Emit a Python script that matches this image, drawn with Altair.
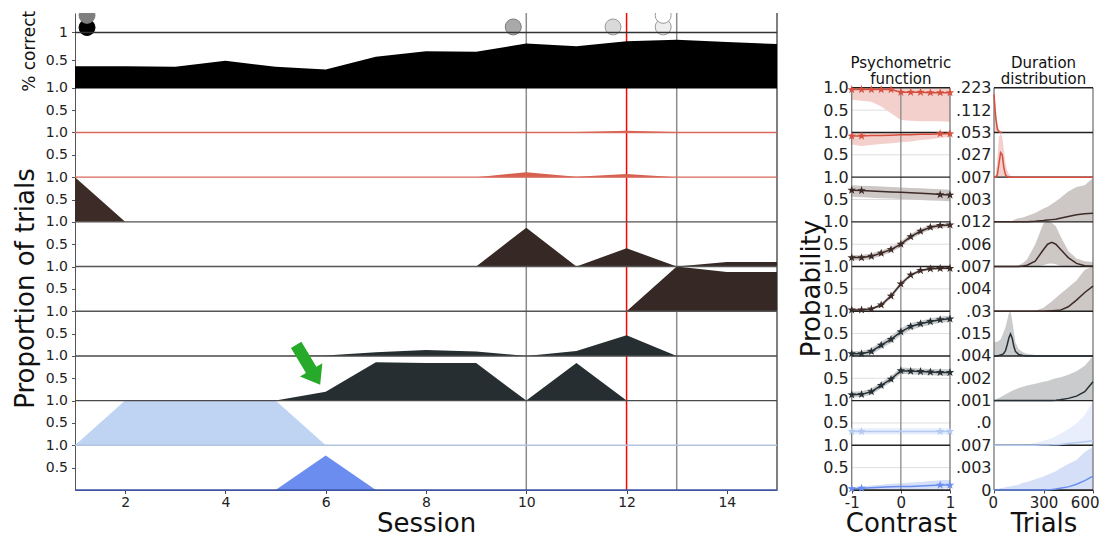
import altair as alt
import pandas as pd

# ---------------- data: session panel ----------------
SESSIONS = [1, 2, 3, 4, 5, 6, 7, 8, 9, 10, 11, 12, 13, 14, 15]
PCT_CORRECT = [0.39, 0.39, 0.38, 0.49, 0.38, 0.33, 0.56, 0.66, 0.65, 0.80, 0.75, 0.84, 0.87, 0.83, 0.79]

PROP_STATE_1 = [0, 0, 0, 0, 0, 0, 0, 0, 0, 0, 0.01, 0.04, 0.01, 0, 0]
PROP_STATE_2 = [0, 0, 0, 0, 0, 0, 0, 0, 0, 0.11, 0.01, 0.07, 0, 0, 0]
PROP_STATE_3 = [1.0, 0, 0, 0, 0, 0, 0, 0, 0, 0, 0, 0, 0, 0, 0]
PROP_STATE_4 = [0, 0, 0, 0, 0, 0, 0, 0, 0, 0.87, 0, 0.41, 0, 0.10, 0.10]
PROP_STATE_5 = [0, 0, 0, 0, 0, 0, 0, 0, 0, 0, 0, 0, 1.0, 0.88, 0.88]
PROP_STATE_6 = [0, 0, 0, 0, 0, 0.01, 0.08, 0.13, 0.10, 0, 0.11, 0.46, 0, 0, 0]
PROP_STATE_7 = [0, 0, 0, 0, 0, 0.20, 0.86, 0.84, 0.84, 0, 0.84, 0, 0, 0, 0]
PROP_STATE_8 = [0, 1.0, 1.0, 1.0, 1.0, 0, 0, 0, 0, 0, 0, 0, 0, 0, 0]
PROP_STATE_9 = [0, 0, 0, 0, 0, 0.77, 0, 0, 0, 0, 0, 0, 0, 0, 0]

MARK_SESSIONS = [10, 13, 12]

CIRCLE_SESSION = [1.24, 1.24, 9.74, 11.73, 12.73, 12.73]
CIRCLE_VALUE = [1.09, 1.31, 1.10, 1.10, 1.10, 1.31]

ARROW_SESSION = 5.65
ARROW_Y = 2.80

# ---------------- data: psychometric functions ----------------
CONTRASTS = [-1, -0.8, -0.6, -0.4, -0.2, 0, 0.2, 0.4, 0.6, 0.8, 1]
PSY_MEAN = [
    [0.96, 0.96, 0.96, 0.96, 0.96, 0.90, 0.90, 0.90, 0.89, 0.89, 0.89],
    [0.92, 0.92, 0.93, 0.93, 0.94, 0.95, 0.95, 0.96, 0.96, 0.97, 0.97],
    [0.71, 0.70, 0.69, 0.68, 0.67, 0.66, 0.65, 0.64, 0.63, 0.61, 0.60],
    [0.20, 0.20, 0.23, 0.30, 0.38, 0.50, 0.67, 0.79, 0.88, 0.92, 0.93],
    [0.03, 0.03, 0.05, 0.14, 0.34, 0.61, 0.81, 0.91, 0.95, 0.96, 0.96],
    [0.05, 0.05, 0.10, 0.24, 0.37, 0.54, 0.66, 0.72, 0.77, 0.81, 0.83],
    [0.13, 0.14, 0.20, 0.34, 0.48, 0.67, 0.66, 0.65, 0.64, 0.63, 0.63],
    [0.31, 0.31, 0.31, 0.31, 0.31, 0.31, 0.31, 0.31, 0.31, 0.31, 0.31],
    [0.03, 0.04, 0.05, 0.06, 0.07, 0.08, 0.08, 0.09, 0.10, 0.11, 0.11],
]
PSY_LO = [
    [0.73, 0.71, 0.69, 0.58, 0.43, 0.28, 0.26, 0.25, 0.25, 0.25, 0.24],
    [0.73, 0.70, 0.72, 0.74, 0.76, 0.78, 0.80, 0.83, 0.85, 0.88, 0.90],
    [0.56, 0.55, 0.54, 0.53, 0.52, 0.51, 0.50, 0.49, 0.48, 0.47, 0.46],
    [0.14, 0.14, 0.17, 0.24, 0.32, 0.44, 0.61, 0.73, 0.83, 0.87, 0.88],
    [0.01, 0.01, 0.02, 0.10, 0.29, 0.56, 0.77, 0.88, 0.92, 0.93, 0.93],
    [0.00, 0.00, 0.03, 0.16, 0.29, 0.46, 0.58, 0.65, 0.70, 0.74, 0.76],
    [0.07, 0.08, 0.13, 0.27, 0.41, 0.60, 0.59, 0.58, 0.57, 0.56, 0.55],
    [0.24, 0.24, 0.24, 0.24, 0.24, 0.24, 0.24, 0.24, 0.24, 0.24, 0.24],
    [0.00, 0.00, 0.00, 0.00, 0.01, 0.01, 0.02, 0.02, 0.03, 0.03, 0.04],
]
PSY_HI = [
    [0.99, 0.99, 0.99, 0.99, 0.99, 0.99, 0.99, 0.99, 0.99, 0.99, 0.99],
    [0.99, 0.99, 0.99, 0.99, 0.99, 0.99, 0.99, 0.99, 0.99, 0.99, 0.99],
    [0.82, 0.81, 0.80, 0.79, 0.78, 0.77, 0.76, 0.75, 0.74, 0.73, 0.72],
    [0.26, 0.26, 0.29, 0.36, 0.44, 0.56, 0.73, 0.85, 0.93, 0.96, 0.97],
    [0.06, 0.06, 0.08, 0.18, 0.39, 0.66, 0.85, 0.94, 0.98, 0.99, 0.99],
    [0.11, 0.11, 0.17, 0.32, 0.45, 0.62, 0.73, 0.79, 0.84, 0.88, 0.90],
    [0.20, 0.21, 0.27, 0.41, 0.55, 0.74, 0.73, 0.72, 0.71, 0.70, 0.70],
    [0.38, 0.38, 0.38, 0.38, 0.38, 0.38, 0.38, 0.38, 0.38, 0.38, 0.38],
    [0.06, 0.08, 0.10, 0.12, 0.14, 0.15, 0.17, 0.18, 0.20, 0.22, 0.23],
]
ALL_STARS = [-1, -0.8, -0.6, -0.4, -0.2, 0, 0.2, 0.4, 0.6, 0.8, 1]
EDGE_STARS = [-1, -0.8, 0.8, 1]
PSY_STARS = [ALL_STARS, EDGE_STARS, EDGE_STARS, ALL_STARS, ALL_STARS,
             ALL_STARS, ALL_STARS, EDGE_STARS, EDGE_STARS]

# ---------------- data: duration distributions (fraction of row scale) ----------------
TRIALS = [0, 10, 20, 30, 40, 50, 60, 70, 80, 90, 100, 110, 120, 130, 150, 175,
          200, 250, 300, 325, 350, 375, 400, 450, 500, 550, 600]
DUR_MEAN = [
    [0.85, 0.35, 0.08, 0.02, 0.0, 0.0],
    [0, 0, 0.05, 0.30, 0.55, 0.50, 0.20, 0.05, 0.01, 0, 0, 0, 0, 0, 0, 0, 0, 0, 0, 0, 0, 0, 0, 0, 0, 0, 0],
    [0, 0, 0, 0, 0, 0, 0, 0, 0, 0, 0, 0, 0, 0, 0, 0, 0.005, 0.015, 0.03, 0.04, 0.05, 0.06, 0.08, 0.12, 0.16, 0.18, 0.19],
    [0, 0, 0, 0, 0, 0, 0, 0, 0, 0, 0, 0, 0, 0, 0, 0.01, 0.03, 0.12, 0.38, 0.50, 0.54, 0.50, 0.40, 0.20, 0.07, 0.02, 0.01],
    [0, 0, 0, 0, 0, 0, 0, 0, 0, 0, 0, 0, 0, 0, 0, 0, 0, 0, 0, 0.005, 0.01, 0.015, 0.02, 0.10, 0.25, 0.42, 0.56],
    [0, 0, 0, 0.01, 0.02, 0.03, 0.06, 0.12, 0.25, 0.40, 0.49, 0.40, 0.22, 0.10, 0.03, 0.01, 0, 0, 0, 0, 0, 0, 0, 0, 0, 0, 0],
    [0, 0, 0, 0, 0, 0, 0, 0, 0, 0, 0, 0, 0, 0, 0, 0, 0, 0, 0, 0, 0.005, 0.01, 0.02, 0.05, 0.10, 0.20, 0.42],
    [0, 0, 0, 0, 0, 0, 0, 0, 0, 0, 0, 0, 0, 0, 0, 0, 0, 0, 0.005, 0.008, 0.01, 0.015, 0.02, 0.04, 0.06, 0.08, 0.10],
    [0, 0, 0, 0, 0, 0, 0, 0, 0, 0, 0, 0, 0, 0, 0, 0, 0, 0, 0, 0.005, 0.01, 0.02, 0.04, 0.07, 0.13, 0.21, 0.31],
]
DUR_LO = [
    [0, 0, 0, 0, 0, 0, 0, 0, 0, 0, 0, 0, 0, 0, 0, 0, 0, 0, 0, 0, 0, 0, 0, 0, 0, 0, 0],
    [0, 0, 0, 0, 0, 0, 0, 0, 0, 0, 0, 0, 0, 0, 0, 0, 0, 0, 0, 0, 0, 0, 0, 0, 0, 0, 0],
    [0, 0, 0, 0, 0, 0, 0, 0, 0, 0, 0, 0, 0, 0, 0, 0, 0, 0, 0, 0, 0, 0, 0, 0, 0, 0, 0],
    [0, 0, 0, 0, 0, 0, 0, 0, 0, 0, 0, 0, 0, 0, 0, 0, 0, 0, 0.03, 0.06, 0.07, 0.05, 0.02, 0, 0, 0, 0],
    [0, 0, 0, 0, 0, 0, 0, 0, 0, 0, 0, 0, 0, 0, 0, 0, 0, 0, 0, 0, 0, 0, 0, 0, 0, 0, 0],
    [0, 0, 0, 0, 0, 0, 0, 0, 0, 0, 0, 0, 0, 0, 0, 0, 0, 0, 0, 0, 0, 0, 0, 0, 0, 0, 0],
    [0, 0, 0, 0, 0, 0, 0, 0, 0, 0, 0, 0, 0, 0, 0, 0, 0, 0, 0, 0, 0, 0, 0, 0, 0, 0, 0],
    [0, 0, 0, 0, 0, 0, 0, 0, 0, 0, 0, 0, 0, 0, 0, 0, 0, 0, 0, 0, 0, 0, 0, 0, 0, 0, 0],
    [0, 0, 0, 0, 0, 0, 0, 0, 0, 0, 0, 0, 0, 0, 0, 0, 0, 0, 0, 0, 0, 0, 0, 0, 0, 0, 0],
]
DUR_HI = [
    [1.0, 0.55, 0.22, 0.08, 0.02, 0, 0, 0, 0, 0, 0, 0, 0, 0, 0, 0, 0, 0, 0, 0, 0, 0, 0, 0, 0, 0, 0],
    [0, 0.05, 0.40, 0.90, 0.97, 0.90, 0.60, 0.30, 0.15, 0.07, 0.03, 0.01, 0, 0, 0, 0, 0, 0, 0, 0, 0, 0, 0, 0, 0, 0, 0],
    [0, 0, 0, 0, 0, 0, 0, 0, 0, 0, 0.01, 0.02, 0.04, 0.06, 0.08, 0.10, 0.13, 0.20, 0.30, 0.34, 0.40, 0.46, 0.53, 0.68, 0.78, 0.82, 0.98],
    [0, 0, 0, 0, 0, 0, 0, 0, 0, 0, 0, 0, 0, 0.01, 0.03, 0.08, 0.16, 0.50, 0.97, 1.0, 0.98, 0.90, 0.70, 0.35, 0.18, 0.12, 0.10],
    [0, 0, 0, 0, 0, 0, 0, 0, 0, 0, 0, 0, 0, 0, 0, 0, 0, 0.01, 0.08, 0.15, 0.22, 0.30, 0.38, 0.53, 0.69, 0.93, 1.0],
    [0.31, 0.31, 0.32, 0.34, 0.37, 0.45, 0.55, 0.65, 0.80, 0.95, 1.0, 0.80, 0.55, 0.30, 0.15, 0.08, 0.05, 0.02, 0.01, 0.01, 0.01, 0.005, 0.005, 0, 0, 0, 0],
    [0, 0.02, 0.04, 0.06, 0.08, 0.10, 0.12, 0.14, 0.16, 0.18, 0.20, 0.22, 0.24, 0.25, 0.28, 0.31, 0.34, 0.38, 0.42, 0.44, 0.47, 0.50, 0.52, 0.58, 0.66, 0.78, 1.0],
    [0, 0, 0, 0, 0, 0, 0, 0, 0, 0, 0, 0, 0, 0, 0, 0.01, 0.02, 0.05, 0.10, 0.13, 0.16, 0.20, 0.26, 0.36, 0.49, 0.68, 0.98],
    [0.02, 0.02, 0.03, 0.03, 0.04, 0.05, 0.05, 0.06, 0.07, 0.08, 0.08, 0.09, 0.10, 0.10, 0.12, 0.16, 0.18, 0.24, 0.30, 0.34, 0.38, 0.42, 0.48, 0.58, 0.67, 0.85, 0.97],
]
# tick labels of the duration panel, bottom (0) to top, every half row
DUR_LABELS = ["0", ".003", ".007", ".0", ".001", ".002", ".004", ".015", ".03", ".004",
              ".007", ".006", ".012", ".003", ".007", ".027", ".053", ".112", ".223"]

# ---------------- style / layout ----------------
FONT = "DejaVu Sans"
W, H = 1018, 477
ROW_PX = 44.69
YMAX = H / ROW_PX
TS = 55.3 / ROW_PX  # scale of the % correct row

ROW_FILL = ["#d7614e", "#d7614e", "#3d2b27", "#362825", "#362825", "#262e31", "#262e31", "#bfd3f3", "#6b8def"]
ROW_BASE = ["#d9695c", "#d9695c", "#55504f", "#555555", "#555555", "#4a4a4a", "#4a4a4a", "#b3c4e0", "#3e54a3"]
LINE_COL = ["#d6503f", "#d6503f", "#3d2b27", "#3d2b27", "#3d2b27", "#263034", "#263034", "#b3c9f2", "#6b8def"]
BAND_COL = ["#f3d0cc", "#f3d0cc", "#cdc7c6", "#cdc7c6", "#cdc7c6", "#c9cbcc", "#c9cbcc", "#e8eefb", "#d6dff8"]
CIRCLE_FILL = ["#000000", "#7f7f7f", "#a9a9a9", "#d9d9d9", "#eeeeee", "#ffffff"]
CIRCLE_STROKE = ["#000000", "#7f7f7f", "#7a7a7a", "#9a9a9a", "#9a9a9a", "#9a9a9a"]
MARK_COLORS = ["#8c8c8c", "#8c8c8c", "#ff0000"]

STAR = ("M0,-1L0.235,-0.324L0.951,-0.309L0.38,0.124L0.588,0.809L0,0.4L-0.588,0.809"
        "L-0.38,0.124L-0.951,-0.309L-0.235,-0.324Z")
ARROW = "M-0.26,-1L0.26,-1L0.26,0.25L0.56,0.25L0,1L-0.56,0.25L-0.26,0.25Z"

LEFT_RANGE = [0, 702]
MID_RANGE = [776.7, 875]
RIGHT_RANGE = [919, 1018]

ys = alt.Scale(domain=[0, YMAX], nice=False, zero=False)
xs_left = alt.Scale(domain=[1, 15], range=LEFT_RANGE, nice=False, zero=False)
xs_mid = alt.Scale(domain=[-1, 1], range=MID_RANGE, nice=False, zero=False)
xs_right = alt.Scale(domain=[0, 600], range=RIGHT_RANGE, nice=False, zero=False)

common_axis = dict(grid=False, labelFont=FONT, titleFont=FONT, labelColor="#222",
                   titleColor="#111", titleFontWeight="normal", labelOverlap=False)
xtitle = dict(titleY=41, titleBaseline="alphabetic", titleAlign="center", titleFontSize=26)

ax_lx = alt.Axis(values=[2, 4, 6, 8, 10, 12, 14], title="Session", orient="bottom",
                 labelFlush=False, tickSize=3.5, labelPadding=2,
                 titleX=sum(LEFT_RANGE) / 2, **xtitle,
                 domainColor="#3e54a3", tickColor="#444", labelFontSize=14,
                 format="d", **common_axis)
ax_ly = alt.Axis(values=[k * 0.5 for k in range(1, 19)] + [9 + 0.5 * TS, 9 + TS], orient="left",
                 labelExpr="datum.value > 9.2 ? (datum.value > 9.9 ? '1' : '0.5') : (datum.value % 1 == 0 ? '1.0' : '0.5')",
                 title="Proportion of trials", titleX=-42, titleY=275, titleAngle=270,
                 titleAlign="center", titleBaseline="alphabetic", titleFontSize=26,
                 tickSize=3.5, labelPadding=4, domainColor="#555", tickColor="#555",
                 labelFontSize=14, **common_axis)
ax_mx = alt.Axis(values=[-1, 0, 1], title="Contrast", orient="bottom", labelFlush=False,
                 labelExpr="datum.value < 0 ? '-1' : (datum.value > 0 ? '1' : '0')",
                 titleX=sum(MID_RANGE) / 2, **xtitle,
                 tickSize=3, labelPadding=2, domainColor="#333",
                 tickColor="#444", labelFontSize=15, **common_axis)
ax_my = alt.Axis(values=[k * 0.5 for k in range(0, 19)], orient="left", offset=-MID_RANGE[0],
                 labelExpr="datum.value == 0 ? '0' : (datum.value % 1 == 0 ? '1.0' : '0.5')",
                 title="Probability", titleX=-32, titleY=275, titleAngle=270,
                 titleAlign="center", titleBaseline="alphabetic", titleFontSize=26,
                 domain=False, ticks=False, labelPadding=3.5, labelFontSize=16, **common_axis)
ax_rx = alt.Axis(values=[0, 300, 600], title="Trials", orient="bottom",
                 labelFlush=True, labelFlushOffset=6,
                 titleX=sum(RIGHT_RANGE) / 2, **xtitle,
                 tickSize=3, labelPadding=2, domainColor="#333",
                 tickColor="#444", labelFontSize=15, format="d", **common_axis)
lab_arr = "[" + ",".join("'" + s + "'" for s in DUR_LABELS) + "]"
ax_ry = alt.Axis(values=[k * 0.5 for k in range(0, 19)], orient="left", offset=-RIGHT_RANGE[0],
                 labelExpr=lab_arr + "[round(datum.value * 2)]", title=None,
                 domain=False, ticks=False, labelPadding=3, labelFontSize=16, **common_axis)


def lx(f):
    return alt.X(f, type="quantitative", scale=xs_left, axis=ax_lx)


def ly(f):
    return alt.Y(f, type="quantitative", scale=ys, axis=ax_ly)


def mx(f):
    return alt.X(f, type="quantitative", scale=xs_mid, axis=ax_mx)


def my(f):
    return alt.Y(f, type="quantitative", scale=ys, axis=ax_my)


def rx(f):
    return alt.X(f, type="quantitative", scale=xs_right, axis=ax_rx)


def ry(f):
    return alt.Y(f, type="quantitative", scale=ys, axis=ax_ry)


def col(f):
    return alt.Color(f, type="nominal", scale=None)


# ---------------- left panel ----------------
STATES = [PROP_STATE_1, PROP_STATE_2, PROP_STATE_3, PROP_STATE_4, PROP_STATE_5,
          PROP_STATE_6, PROP_STATE_7, PROP_STATE_8, PROP_STATE_9]
area_rows = []
for i, vals in enumerate(STATES):
    base = 8 - i
    for s, v in zip(SESSIONS, vals):
        area_rows.append(dict(row=f"s{i + 1}", session=s, lo=base, hi=base + v, color=ROW_FILL[i]))
for s, v in zip(SESSIONS, PCT_CORRECT):
    area_rows.append(dict(row="pc", session=s, lo=9.0, hi=9.0 + v * TS, color="#000000"))
area_df = pd.DataFrame(area_rows)

vr_df = pd.DataFrame({"session": MARK_SESSIONS + [15], "color": MARK_COLORS + ["#555555"]})
hl_df = pd.DataFrame({"y": [8 - i for i in range(9)] + [9.0, 9 + TS],
                      "x0": 1, "x1": 15,
                      "color": ROW_BASE + ["#000000", "#333333"]})
circ_df = pd.DataFrame({"session": CIRCLE_SESSION, "y": [9 + v * TS for v in CIRCLE_VALUE],
                        "fill": CIRCLE_FILL, "stroke": CIRCLE_STROKE})
arrow_df = pd.DataFrame({"session": [ARROW_SESSION], "y": [ARROW_Y]})
pc_df = pd.DataFrame({"y": [9 + 0.66 * TS], "label": ["% correct"]})

left = alt.layer(
    alt.Chart(vr_df).mark_rule(strokeWidth=1.5).encode(x=lx("session"), color=col("color")),
    alt.Chart(area_df).mark_area(interpolate="linear", strokeWidth=0).encode(
        x=lx("session"), y=ly("hi"), y2="lo", color=col("color"), detail="row:N"),
    alt.Chart(circ_df).mark_point(shape="circle", filled=True, size=255, strokeWidth=1,
                                  opacity=1, clip=True).encode(
        x=lx("session"), y=ly("y"), fill=alt.Fill("fill:N", scale=None),
        stroke=alt.Stroke("stroke:N", scale=None)),
    alt.Chart(hl_df).mark_rule(strokeWidth=1.4).encode(
        x=lx("x0"), x2="x1", y=ly("y"), color=col("color")),
    alt.Chart(arrow_df).mark_point(shape=ARROW, filled=True, size=2172, angle=329,
                                   color="#27aa2a", opacity=1).encode(x=lx("session"), y=ly("y")),
    alt.Chart(pc_df).mark_text(angle=270, fontSize=17, font=FONT, align="center",
                               baseline="alphabetic", color="#111").encode(
        x=alt.value(-40), y=ly("y"), text="label:N"),
)

# ---------------- middle panel (psychometric) ----------------
band_rows, line_rows, star_rows = [], [], []
for i in range(9):
    base = 8 - i
    for c, m, lo, hi in zip(CONTRASTS, PSY_MEAN[i], PSY_LO[i], PSY_HI[i]):
        band_rows.append(dict(row=i, c=c, lo=base + lo, hi=base + hi, color=BAND_COL[i]))
        line_rows.append(dict(row=i, c=c, y=base + m, color=LINE_COL[i]))
        if c in PSY_STARS[i]:
            star_rows.append(dict(row=i, c=c, y=base + m, color=LINE_COL[i]))
psy_band = pd.DataFrame(band_rows)
psy_line = pd.DataFrame(line_rows)
psy_star = pd.DataFrame(star_rows)
psy_grid = pd.DataFrame({"y": [k + 0.5 for k in range(9)], "x0": -1, "x1": 1})
psy_h = pd.DataFrame({"y": list(range(10)), "x0": -1, "x1": 1})
psy_v = pd.DataFrame({"x": [-1, 0, 1], "y0": 0, "y1": 9, "color": ["#777777", "#8a8a8a", "#777777"]})
psy_title = pd.DataFrame({"x": [0], "y": [9.37], "t": ["Psychometric\nfunction"]})

mid = alt.layer(
    alt.Chart(psy_grid).mark_rule(strokeWidth=1, color="#dedede").encode(x=mx("x0"), x2="x1", y=my("y")),
    alt.Chart(psy_band).mark_area(strokeWidth=0).encode(
        x=mx("c"), y=my("hi"), y2="lo", color=col("color"), detail="row:N"),
    alt.Chart(psy_v).mark_rule(strokeWidth=1.3).encode(x=mx("x"), y=my("y0"), y2="y1", color=col("color")),
    alt.Chart(psy_h).mark_rule(strokeWidth=1.4, color="#222222").encode(x=mx("x0"), x2="x1", y=my("y")),
    alt.Chart(psy_line).mark_line(strokeWidth=1.5).encode(
        x=mx("c"), y=my("y"), color=col("color"), detail="row:N"),
    alt.Chart(psy_star).mark_point(shape=STAR, filled=True, size=80, opacity=1).encode(
        x=mx("c"), y=my("y"), color=col("color")),
    alt.Chart(psy_title).mark_text(lineBreak="\n", fontSize=15, font=FONT, align="center",
                                   baseline="bottom", lineHeight=16, color="#111").encode(
        x=mx("x"), y=my("y"), text="t:N"),
)

# ---------------- right panel (durations) ----------------
db_rows, dl_rows = [], []
for i in range(9):
    base = 8 - i
    for t, lo, hi in zip(TRIALS, DUR_LO[i], DUR_HI[i]):
        db_rows.append(dict(row=i, t=t, lo=base + lo, hi=base + hi, color=BAND_COL[i]))
    for t, m in zip(TRIALS, DUR_MEAN[i]):
        dl_rows.append(dict(row=i, t=t, y=base + m, color=LINE_COL[i]))
dur_band = pd.DataFrame(db_rows)
dur_line = pd.DataFrame(dl_rows)
dur_h = pd.DataFrame({"y": list(range(10)), "x0": 0, "x1": 600})
dur_v = pd.DataFrame({"x": [0, 600], "y0": 0, "y1": 9})
dur_title = pd.DataFrame({"x": [300], "y": [9.37], "t": ["Duration\ndistribution"]})

right = alt.layer(
    alt.Chart(dur_band).mark_area(strokeWidth=0).encode(
        x=rx("t"), y=ry("hi"), y2="lo", color=col("color"), detail="row:N"),
    alt.Chart(dur_v).mark_rule(strokeWidth=1.3, color="#777777").encode(x=rx("x"), y=ry("y0"), y2="y1"),
    alt.Chart(dur_h).mark_rule(strokeWidth=1.4, color="#222222").encode(x=rx("x0"), x2="x1", y=ry("y")),
    alt.Chart(dur_line).mark_line(strokeWidth=1.5).encode(
        x=rx("t"), y=ry("y"), color=col("color"), detail="row:N"),
    alt.Chart(dur_title).mark_text(lineBreak="\n", fontSize=15, font=FONT, align="center",
                                   baseline="bottom", lineHeight=16, color="#111").encode(
        x=rx("x"), y=ry("y"), text="t:N"),
)

chart = alt.layer(left, mid, right).resolve_scale(
    x="independent", y="independent"
).properties(
    width=W, height=H,
    autosize=alt.AutoSizeParams(type="none"),
    padding={"left": 67, "top": 5, "right": 6, "bottom": 42},
).configure_view(stroke=None)

chart.save("out.html", embed_options={"renderer": "svg", "actions": False})
